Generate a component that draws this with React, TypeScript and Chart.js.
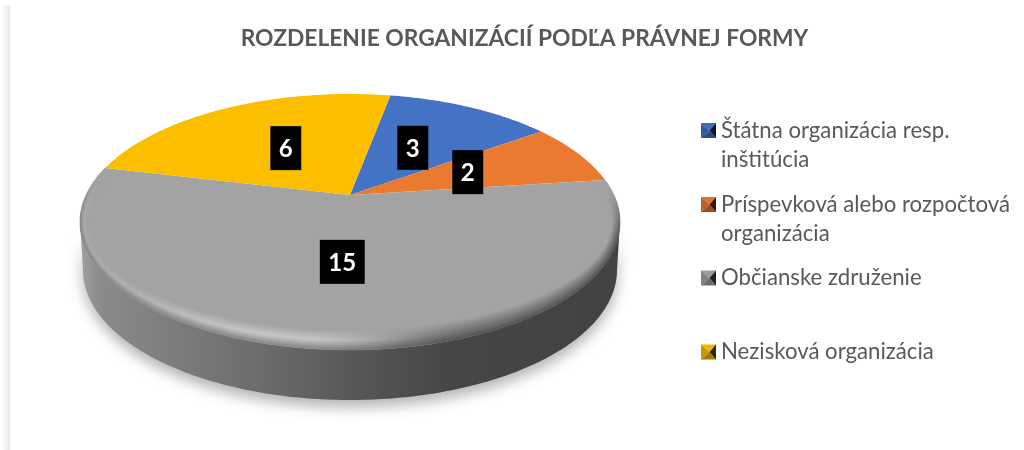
import React, { useEffect, useRef } from "react";
import { Chart, registerables } from "chart.js";

Chart.register(...registerables);

const titleText = "ROZDELENIE ORGANIZÁCIÍ PODĽA PRÁVNEJ FORMY";
const categories = [
  ["Štátna organizácia resp.", "inštitúcia"],
  ["Príspevková alebo rozpočtová", "organizácia"],
  ["Občianske združenie"],
  ["Nezisková organizácia"],
];
const counts = [3, 2, 15, 6];
const colors = ["#4472C4", "#E97A30", "#A3A3A3", "#FCBF00"];

const FONT = "Lato, 'Open Sans', sans-serif";
const CX = 350, CY = 222, RX = 270, RY = 128;
const K_LABEL = -0.21, K_EDGE = -0.15;
const APEX: [number, number] = [CX, CY + RY * K_LABEL];
const BOT = { cy: 270, rx: 267, ry: 130 };
const IN = { rx: 262, ry: 108 };
const legendMarkerY = [130.5, 204.5, 278, 352];
const labelNudge = [[2, 0], [5, 1], [0, 0], [-2, 0]];

function project(a: number, r: number, k: number): [number, number] {
  const u = r * Math.cos(a), v = r * Math.sin(a);
  const d = 1 + k * v;
  return [CX + RX * (u * Math.sqrt(1 - k * k)) / d, CY + RY * (v + k) / d];
}
const clamp = (x: number) => Math.max(0, Math.min(1, x));
const smooth = (a: number, b: number, x: number) => {
  const t = clamp((x - a) / (b - a));
  return t * t * (3 - 2 * t);
};
const lerp = (a: number, b: number, t: number) => a + (b - a) * t;

function rimShade(x: number, s: number) {
  const hi = smooth(470, 300, x);
  const peak = 172 + 28 * smooth(80, 250, x);
  const bright = s < 0.55 ? lerp(163, peak, s / 0.55) : lerp(peak, 135, (s - 0.55) / 0.45);
  const dark = lerp(163, 85, s);
  return hi * bright + (1 - hi) * dark;
}

function shade(hex: string, f: number) {
  const n = parseInt(hex.slice(1), 16);
  return `rgb(${((n >> 16) & 255) * f},${((n >> 8) & 255) * f},${(n & 255) * f})`;
}

const piePlugin = {
  id: "pie3d",
  beforeDatasetsDraw(chart: any) {
    const ctx: CanvasRenderingContext2D = chart.ctx;
    const arcs = chart.getDatasetMeta(0).data;
    ctx.save();
    // page edge shade
    const eg = ctx.createLinearGradient(2, 0, 10, 0);
    eg.addColorStop(0, "rgba(232,232,232,0)");
    eg.addColorStop(1, "rgba(232,232,232,1)");
    ctx.fillStyle = eg;
    ctx.fillRect(2, 5, 8, 445);

    // side wall
    const wall = new Path2D();
    for (let i = 0; i <= 180; i++) {
      const t = (Math.PI * i) / 180;
      const x = CX + RX * Math.cos(t), y = CY + RY * Math.sin(t);
      i === 0 ? wall.moveTo(x, y) : wall.lineTo(x, y);
    }
    for (let i = 180; i >= 0; i--) {
      const t = (Math.PI * i) / 180;
      wall.lineTo(CX + BOT.rx * Math.cos(t), BOT.cy + BOT.ry * Math.sin(t));
    }
    wall.closePath();
    const wg = ctx.createLinearGradient(CX - RX, 0, CX + RX, 0);
    const stops: [number, string][] = [
      [0, "#a0a0a0"], [0.04, "#8a8a8a"], [0.2, "#7a7a7a"], [0.42, "#626262"],
      [0.5, "#585858"], [0.68, "#464646"], [1, "#424242"],
    ];
    stops.forEach(([o, c]) => wg.addColorStop(o, c));
    ctx.save();
    ctx.shadowColor = "rgba(0,0,0,0.3)";
    ctx.shadowBlur = 14;
    ctx.shadowOffsetY = 7;
    ctx.fillStyle = wg;
    ctx.fill(wall);
    ctx.restore();

    // top face slices, angles from the library
    arcs.forEach((arc: any, i: number) => {
      const { startAngle, endAngle } = arc.getProps(["startAngle", "endAngle"]);
      const n = Math.max(8, Math.ceil(((endAngle - startAngle) * 180) / Math.PI));
      ctx.beginPath();
      ctx.moveTo(APEX[0], APEX[1]);
      for (let j = 0; j <= n; j++) {
        const [x, y] = project(lerp(startAngle, endAngle, j / n), 1, K_EDGE);
        ctx.lineTo(x, y);
      }
      ctx.closePath();
      ctx.fillStyle = colors[i];
      ctx.fill();
    });

    // bevel along the front rim
    const T0 = -0.32, T1 = Math.PI + 0.44, SEG = 260, BANDS = 14;
    for (let b = 0; b < BANDS; b++) {
      const s0 = b / BANDS, s1 = (b + 1) / BANDS;
      for (let k = 0; k < SEG; k++) {
        const t0 = lerp(T0, T1, k / SEG), t1 = lerp(T0, T1, (k + 1) / SEG);
        const rx0 = lerp(IN.rx, RX, s0), ry0 = lerp(IN.ry, RY, s0);
        const rx1 = lerp(IN.rx, RX, s1), ry1 = lerp(IN.ry, RY, s1);
        const xm = CX + RX * Math.cos((t0 + t1) / 2);
        const fade = Math.min(smooth(T0, T0 + 0.5, t0), 1 - smooth(T1 - 0.5, T1, t0));
        const g = Math.round(lerp(163, rimShade(xm, (s0 + s1) / 2), fade));
        ctx.fillStyle = ctx.strokeStyle = `rgb(${g},${g},${g})`;
        ctx.lineWidth = 0.6;
        ctx.beginPath();
        ctx.moveTo(CX + rx0 * Math.cos(t0), CY + ry0 * Math.sin(t0));
        ctx.lineTo(CX + rx0 * Math.cos(t1), CY + ry0 * Math.sin(t1));
        ctx.lineTo(CX + rx1 * Math.cos(t1), CY + ry1 * Math.sin(t1));
        ctx.lineTo(CX + rx1 * Math.cos(t0), CY + ry1 * Math.sin(t0));
        ctx.closePath();
        ctx.fill();
        ctx.stroke();
      }
    }

    // value labels
    arcs.forEach((arc: any, i: number) => {
      const { startAngle, endAngle } = arc.getProps(["startAngle", "endAngle"]);
      const [px, py] = project((startAngle + endAngle) / 2, 0.49, K_LABEL);
      const x = px + labelNudge[i][0], y = py + labelNudge[i][1];
      const label = String(counts[i]);
      ctx.font = `bold 24px ${FONT}`;
      const w = ctx.measureText(label).width + 17;
      ctx.fillStyle = "#000";
      ctx.fillRect(x - w / 2, y - 22, w, 44);
      ctx.fillStyle = "#fff";
      ctx.textAlign = "center";
      ctx.textBaseline = "middle";
      ctx.fillText(label, x, y + 1);
    });

    // legend
    categories.forEach((lines, i) => {
      const my = legendMarkerY[i];
      const x0 = 701, x1 = 716, y0 = my - 7.5, y1 = my + 7.5;
      const xc = (x0 + x1) / 2 + 1, yc = my;
      const tri = (ax: number, ay: number, bx: number, by: number, f: number) => {
        ctx.fillStyle = shade(colors[i], f);
        ctx.beginPath();
        ctx.moveTo(ax, ay);
        ctx.lineTo(bx, by);
        ctx.lineTo(xc, yc);
        ctx.closePath();
        ctx.fill();
      };
      tri(x0, y0, x1, y0, 0.95);
      tri(x0, y0, x0, y1, 0.8);
      tri(x0, y1, x1, y1, 0.65);
      tri(x1, y0, x1, y1, 0.2);
      ctx.fillStyle = "#595959";
      ctx.font = `22.2px ${FONT}`;
      ctx.textAlign = "left";
      ctx.textBaseline = "middle";
      lines.forEach((line, j) => ctx.fillText(line, 721, my + j * 29));
    });
    ctx.restore();
    return false;
  },
};

export default function App() {
  const ref = useRef<HTMLCanvasElement>(null);
  useEffect(() => {
    document.body.style.margin = "0";
    const chart = new Chart(ref.current!, {
      type: "pie",
      data: {
        labels: categories,
        datasets: [{ data: counts, backgroundColor: colors, borderWidth: 0 }],
      },
      options: {
        responsive: false,
        animation: false,
        rotation: 10,
        layout: { padding: { left: 25, top: 0 } },
        plugins: {
          legend: { display: false },
          tooltip: { enabled: false },
          title: {
            display: true,
            text: titleText,
            color: "#595959",
            font: { family: FONT, size: 22.8, weight: "bold" },
            padding: { top: 25, bottom: 10 },
          },
        },
      },
      plugins: [piePlugin],
    });
    return () => chart.destroy();
  }, []);
  return (
    <div style={{ width: 1024, height: 450, background: "#fff" }}>
      <canvas ref={ref} width={1024} height={450} style={{ display: "block" }} />
    </div>
  );
}
